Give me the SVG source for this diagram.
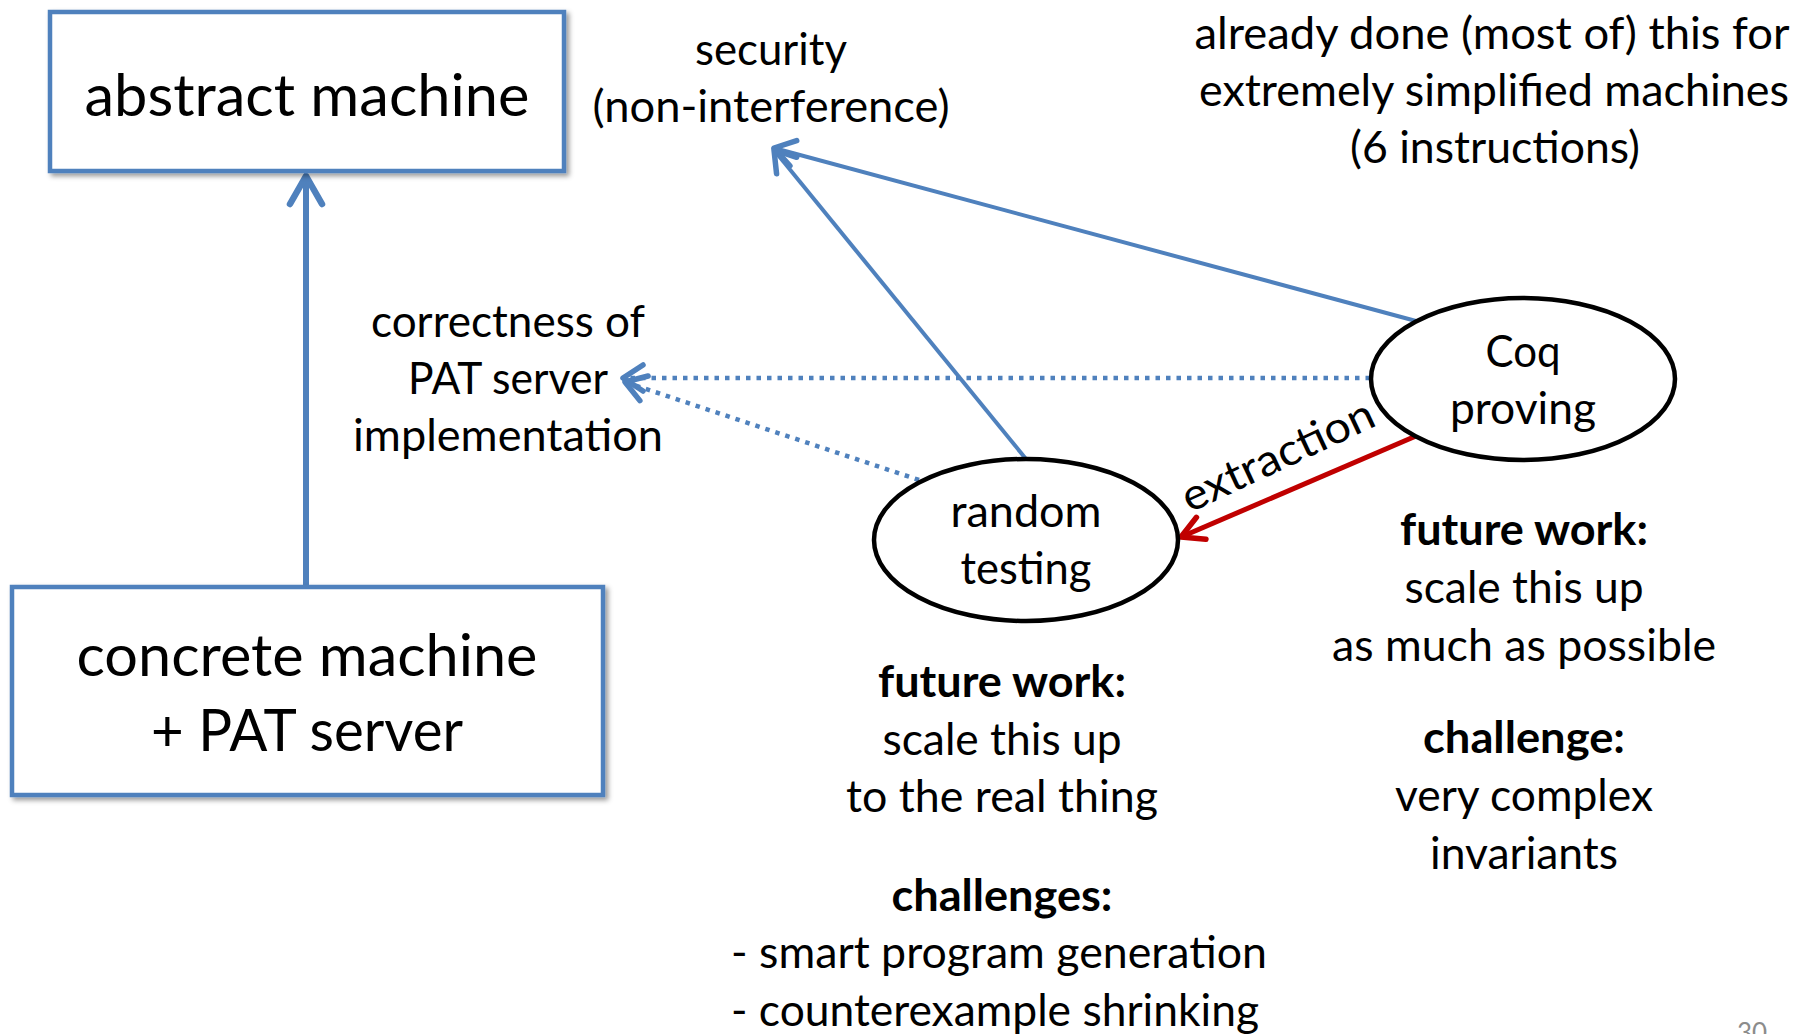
<svg xmlns="http://www.w3.org/2000/svg" width="1812" height="1034" viewBox="0 0 1812 1034">
  <style>
    text { font-family: Lato, "Open Sans", "Liberation Sans", sans-serif; fill: #000; text-anchor: middle; }
    .big { font-size: 58px; }
    .body { font-size: 44px; }
    .bold { font-weight: bold; }
    .box { fill: #fff; stroke: #4F81BD; stroke-width: 4.5; }
    .oval { fill: #fff; stroke: #000; stroke-width: 4.5; }
    .blue { fill: none; stroke: #4F81BD; stroke-width: 4; }
    .blue-thick { fill: none; stroke: #4F81BD; stroke-width: 6; }
    .dotted { fill: none; stroke: #4F81BD; stroke-width: 4.5; stroke-dasharray: 4.5 6; }
    .red { fill: none; stroke: #C00000; stroke-width: 5; }
    .pagenum { font-size: 26px; fill: #8c8c8c; }
  </style>
  <defs>
    <filter id="shadow" x="-5%" y="-5%" width="115%" height="120%">
      <feDropShadow dx="3" dy="3" stdDeviation="2.5" flood-color="#000" flood-opacity="0.4"/>
    </filter>
    <marker id="head-blue-lg" markerUnits="userSpaceOnUse" markerWidth="60" markerHeight="60" viewBox="-40 -30 50 60" refX="0" refY="0" orient="auto" overflow="visible">
      <path d="M-28,-16 L0,0 L-28,16" fill="none" stroke="#4F81BD" stroke-width="6.5" stroke-linecap="round" stroke-linejoin="round"/>
    </marker>
    <marker id="head-blue" markerUnits="userSpaceOnUse" markerWidth="50" markerHeight="50" viewBox="-30 -25 40 50" refX="0" refY="0" orient="auto" overflow="visible">
      <path d="M-20,-13 L0,0 L-20,13" fill="none" stroke="#4F81BD" stroke-width="5.5" stroke-linecap="round" stroke-linejoin="round"/>
    </marker>
    <marker id="head-red" markerUnits="userSpaceOnUse" markerWidth="50" markerHeight="50" viewBox="-30 -25 40 50" refX="0" refY="0" orient="auto" overflow="visible">
      <path d="M-22,-12 L0,0 L-22,12" fill="none" stroke="#C00000" stroke-width="5.5" stroke-linecap="round" stroke-linejoin="round"/>
    </marker>
  </defs>

  <rect width="1812" height="1034" fill="#fff"/>

  <!-- connectors -->
  <g id="connectors">
    <line id="concrete-to-abstract" class="blue-thick" x1="306" y1="585" x2="306" y2="176" marker-end="url(#head-blue-lg)"/>
    <line id="coq-to-security" class="blue" x1="1416" y1="321" x2="774" y2="148" marker-end="url(#head-blue)"/>
    <line id="testing-to-security" class="blue" x1="1026" y1="459" x2="774" y2="150" marker-end="url(#head-blue)"/>
    <line id="coq-to-correctness" class="dotted" x1="1370" y1="378" x2="623" y2="378" marker-end="url(#head-blue)"/>
    <line id="testing-to-correctness" class="dotted" x1="919" y1="480" x2="625" y2="382" marker-end="url(#head-blue)"/>
    <line id="extraction" class="red" x1="1416" y1="436" x2="1181" y2="537" marker-end="url(#head-red)"/>
    <text class="body" transform="translate(1284,469) rotate(-25)" textLength="208" lengthAdjust="spacingAndGlyphs">extraction</text>
  </g>

  <!-- boxes -->
  <g id="abstract-machine">
    <rect class="box" x="50" y="12" width="514" height="159" filter="url(#shadow)"/>
    <text class="big" x="307" y="116" textLength="445" lengthAdjust="spacingAndGlyphs">abstract machine</text>
  </g>
  <g id="concrete-machine">
    <rect class="box" x="12" y="587" width="591" height="208" filter="url(#shadow)"/>
    <text class="big" x="307" y="676" textLength="461" lengthAdjust="spacingAndGlyphs">concrete machine</text>
    <text class="big" x="307" y="751" textLength="312" lengthAdjust="spacingAndGlyphs">+ PAT server</text>
  </g>

  <!-- ovals -->
  <g id="coq-proving">
    <ellipse class="oval" cx="1523" cy="379" rx="152" ry="81"/>
    <text class="body" x="1523" y="367" textLength="75" lengthAdjust="spacingAndGlyphs">Coq</text>
    <text class="body" x="1523" y="424" textLength="146" lengthAdjust="spacingAndGlyphs">proving</text>
  </g>
  <g id="random-testing">
    <ellipse class="oval" cx="1026" cy="540" rx="152" ry="81"/>
    <text class="body" x="1026" y="527" textLength="151" lengthAdjust="spacingAndGlyphs">random</text>
    <text class="body" x="1026" y="584" textLength="131" lengthAdjust="spacingAndGlyphs">testing</text>
  </g>

  <!-- goal labels -->
  <g id="security">
    <text class="body" x="771" y="65" textLength="152" lengthAdjust="spacingAndGlyphs">security</text>
    <text class="body" x="771" y="122" textLength="357" lengthAdjust="spacingAndGlyphs">(non-interference)</text>
  </g>
  <g id="correctness">
    <text class="body" x="508" y="337" textLength="274" lengthAdjust="spacingAndGlyphs">correctness of</text>
    <text class="body" x="508" y="394" textLength="200" lengthAdjust="spacingAndGlyphs">PAT server</text>
    <text class="body" x="508" y="451" textLength="310" lengthAdjust="spacingAndGlyphs">implementation</text>
  </g>

  <!-- notes -->
  <g id="note-done">
    <text class="body" x="1492" y="49" textLength="595" lengthAdjust="spacingAndGlyphs">already done (most of) this for</text>
    <text class="body" x="1494" y="106" textLength="590" lengthAdjust="spacingAndGlyphs">extremely simplified machines</text>
    <text class="body" x="1495" y="163" textLength="290" lengthAdjust="spacingAndGlyphs">(6 instructions)</text>
  </g>
  <g id="note-coq">
    <text class="body bold" x="1524" y="545" textLength="248" lengthAdjust="spacingAndGlyphs">future work:</text>
    <text class="body" x="1524" y="603" textLength="239" lengthAdjust="spacingAndGlyphs">scale this up</text>
    <text class="body" x="1524" y="661" textLength="384" lengthAdjust="spacingAndGlyphs">as much as possible</text>
    <text class="body bold" x="1524" y="753" textLength="202" lengthAdjust="spacingAndGlyphs">challenge:</text>
    <text class="body" x="1524" y="811" textLength="258" lengthAdjust="spacingAndGlyphs">very complex</text>
    <text class="body" x="1524" y="869" textLength="188" lengthAdjust="spacingAndGlyphs">invariants</text>
  </g>
  <g id="note-testing">
    <text class="body bold" x="1002" y="697" textLength="248" lengthAdjust="spacingAndGlyphs">future work:</text>
    <text class="body" x="1002" y="755" textLength="239" lengthAdjust="spacingAndGlyphs">scale this up</text>
    <text class="body" x="1002" y="812" textLength="312" lengthAdjust="spacingAndGlyphs">to the real thing</text>
    <text class="body bold" x="1002" y="911" textLength="221" lengthAdjust="spacingAndGlyphs">challenges:</text>
    <text class="body" x="999" y="968" textLength="536" lengthAdjust="spacingAndGlyphs">- smart program generation</text>
    <text class="body" x="995" y="1026" textLength="528" lengthAdjust="spacingAndGlyphs">- counterexample shrinking</text>
  </g>

  <text class="pagenum" x="1752" y="1042">30</text>
</svg>
